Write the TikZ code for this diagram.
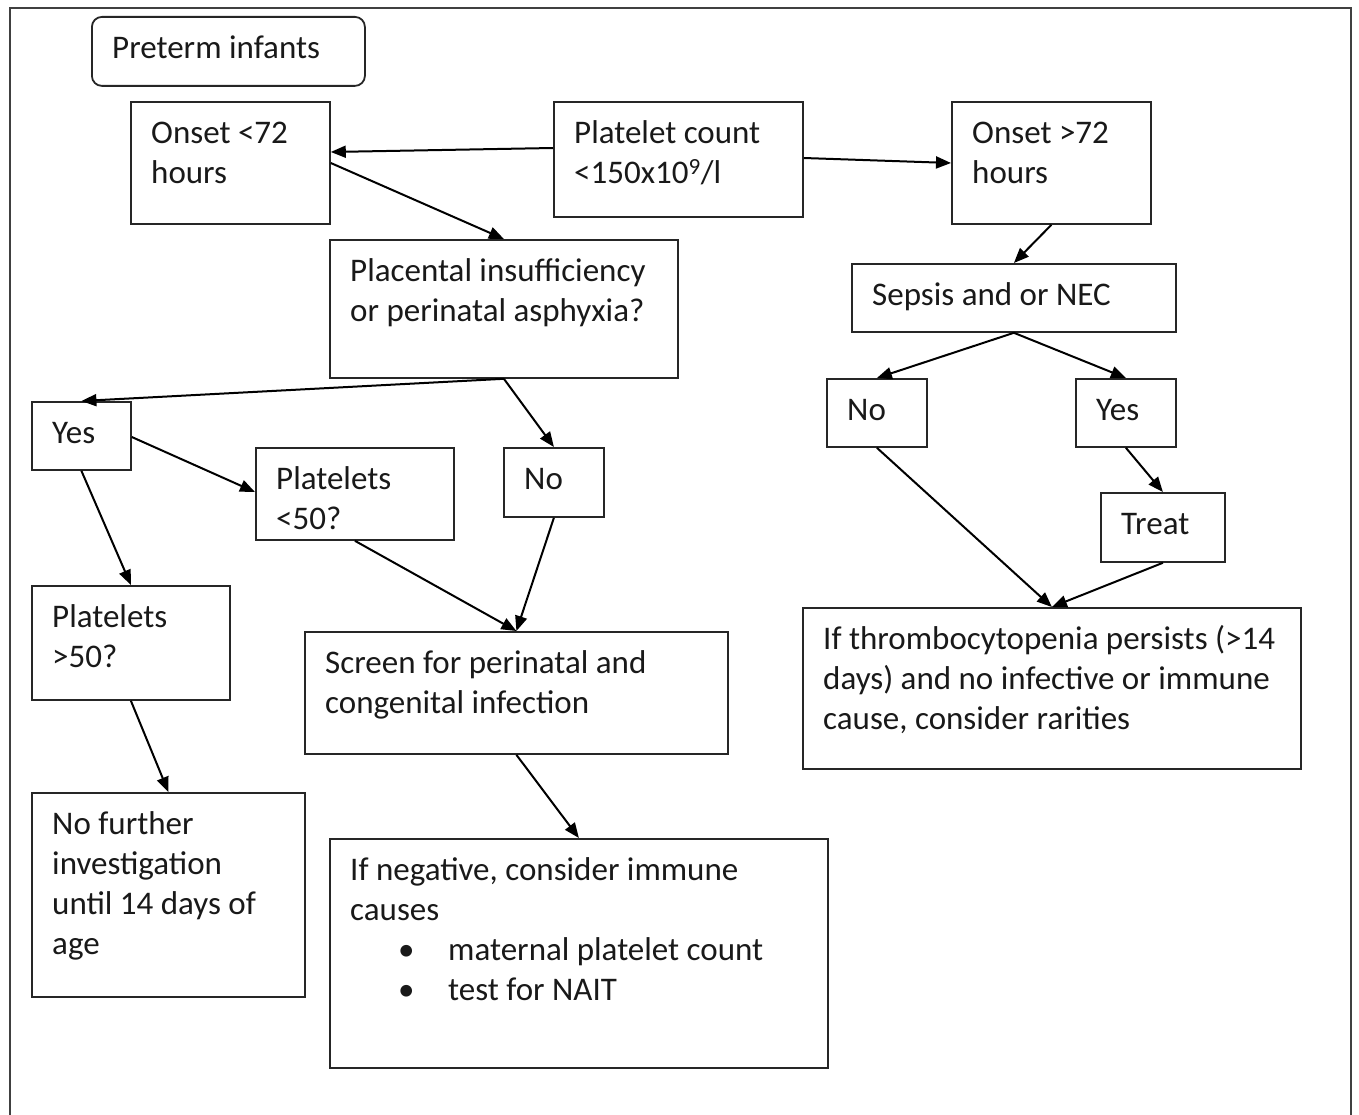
\documentclass[tikz,border=0pt]{standalone}
\usepackage{fontspec}
\setmainfont{Carlito}
\usetikzlibrary{arrows.meta,calc}

% A framed step: #1 name, (#2,#3) top-left corner, (#4,#5) bottom-right corner, #6 text
\newcommand\flowbox[7][]{%
  \node[box,#1,minimum width={#5pt-#3pt},minimum height={#6pt-#4pt}] (#2) at (#3,#4) {};
  \node[txt] (#2-t) at ({#3+21},{#4+14}) {\rule{0pt}{28pt}#7};
}

\begin{document}
\begin{tikzpicture}[x=1pt,y=-1pt,
  box/.style={draw=black!85,line width=1.8pt,inner sep=0pt,anchor=north west},
  txt/.style={anchor=north west,inner sep=0pt,align=left,text=black!90,
              font=\fontsize{33}{40}\selectfont},
  arr/.style={draw=black,line width=2pt,-{Triangle[length=15pt,width=12pt]}}]

\useasboundingbox (0,0) rectangle (1359,1115);
\fill[white] (0,0) rectangle (1359,1115);

% outer frame (open at the foot of the page)
\draw[line width=2pt,black!75] (10,1125) -- (10,8) -- (1351,8) -- (1351,1125);

% steps
\flowbox[rounded corners=10pt]{pre}{91}{16}{364}{85}{Preterm infants}
\flowbox{on1}{130}{101}{329}{223}{Onset <72\\hours}
\flowbox{plc}{553}{101}{802}{216}{Platelet count\\<150x10\textsuperscript{9}/l}
\flowbox{on2}{951}{101}{1150}{223}{Onset >72\\hours}
\flowbox{pla}{329}{239}{677}{377}{Placental insufficiency\\or perinatal asphyxia?}
\flowbox{sep}{851}{263}{1175}{331}{Sepsis and or NEC}
\flowbox{yes1}{31}{401}{130}{469}{Yes}
\flowbox{lt50}{255}{447}{453}{539}{Platelets\\<50?}
\flowbox{no1}{503}{447}{603}{516}{No}
\flowbox{no2}{826}{378}{926}{446}{No}
\flowbox{yes2}{1075}{378}{1175}{446}{Yes}
\flowbox{treat}{1100}{492}{1224}{561}{Treat}
\flowbox{gt50}{31}{585}{229}{699}{Platelets\\>50?}
\flowbox{scr}{304}{631}{727}{753}{Screen for perinatal and\\congenital infection}
\flowbox{thr}{802}{607}{1300}{768}{If thrombocytopenia persists (>14\\days) and no infective or immune\\cause, consider rarities}
\flowbox{nof}{31}{792}{304}{996}{No further\\investigation\\until 14 days of\\age}
\flowbox{neg}{329}{838}{827}{1067}{If negative, consider immune\\causes\\\hspace*{48pt}\makebox[50pt][l]{•}maternal platelet count\\\hspace*{48pt}\makebox[50pt][l]{•}test for NAIT}

% connectors
\draw[arr] ([yshift=-47pt]plc.north west) -- ([yshift=-51pt]on1.north east);
\draw[arr] ([yshift=-57pt]plc.north east) -- ([yshift=-62pt]on2.north west);
\draw[arr] ([yshift=-62pt]on1.north east) -- (pla.north);
\draw[arr] (on2.south) -- (sep.north);
\draw[arr] (pla.south) -- (yes1.north);
\draw[arr] (pla.south) -- (no1.north);
\draw[arr] (sep.south) -- (no2.north);
\draw[arr] (sep.south) -- (yes2.north);
\draw[arr] ([yshift=-36pt]yes1.north east) -- ([yshift=-45pt]lt50.north west);
\draw[arr] (yes1.south) -- (gt50.north);
\draw[arr] (lt50.south) -- (scr.north);
\draw[arr] (no1.south) -- (scr.north);
\draw[arr] (yes2.south) -- (treat.north);
\draw[arr] (no2.south) -- (thr.north);
\draw[arr] (treat.south) -- (thr.north);
\draw[arr] (gt50.south) -- (nof.north);
\draw[arr] (scr.south) -- (neg.north);
\end{tikzpicture}
\end{document}
